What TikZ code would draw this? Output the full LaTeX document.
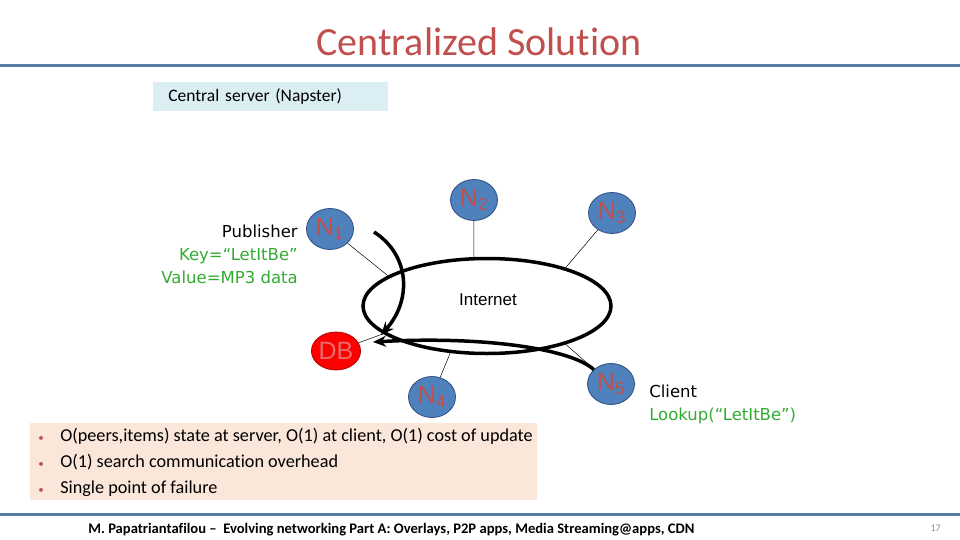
\documentclass[tikz,border=0pt]{standalone}
\usepackage{fontspec}
\setmainfont{Carlito}[Ligatures=NoCommon]
\newfontfamily\diagfont{DejaVu Sans}
\newfontfamily\netfont{Liberation Sans}
\usetikzlibrary{positioning, arrows.meta, shapes.geometric}
\definecolor{csTitle}{HTML}{C0504D}
\definecolor{csRule}{HTML}{557DA5}
\definecolor{csServer}{HTML}{DAEEF3}
\definecolor{csPeer}{HTML}{4F81BD}
\definecolor{csPeerLine}{HTML}{2F4F7F}
\definecolor{csDBText}{HTML}{E86A6A}
\definecolor{csGreen}{HTML}{33AA33}
\definecolor{csNote}{HTML}{FBE7DA}
\definecolor{csPage}{HTML}{8C8C8C}
\newcommand{\csitem}[1]{\makebox[22pt][l]{\textcolor{csTitle}{\fontsize{11}{11}\selectfont•}}#1}
\tikzset{
  cs/.style={x=1pt, y=-1pt, line width=0.6pt},
  rule/.style={draw=csRule, line width=3pt},
  peer/.style={ellipse, draw=csPeerLine, line width=0.8pt, fill=csPeer, minimum width=47pt, minimum height=41pt, inner sep=0pt, text=csTitle, font=\netfont\fontsize{25}{25}\selectfont},
  dbnode/.style={peer, fill=red, draw=red!70!black, text=csDBText},
  net/.style={ellipse, draw, line width=3.5pt, minimum width=248pt, minimum height=95pt, inner sep=0pt},
  link/.style={line width=0.5pt},
  flow/.style={line width=3.5pt, -{Stealth[length=13pt, width=11pt]}},
  lbl/.style={font=\diagfont\fontsize{16.5}{23}\selectfont, inner sep=0pt},
  item/.style={anchor=base west, inner sep=0pt, font=\fontsize{18.2}{20}\selectfont},
}

\begin{document}
\begin{tikzpicture}[
  cs,
]
\useasboundingbox (0,0) rectangle (960,540);

\node[anchor=base, text=csTitle, font=\fontsize{40}{40}\selectfont, inner sep=0pt] (title) at (479,56) {Centralized Solution};
\draw[rule] (0,66) -- (960,66);

\node[anchor=north west, fill=csServer, minimum width=235pt, minimum height=29pt, text width=205pt, inner xsep=15pt, align=left, font=\fontsize{17.5}{19}\selectfont] (server) at (153,82) {Central server (Napster)};

% the network and its peers
\node[net] (inet) at (487,306) {};
\node[font=\netfont\fontsize{17}{17}\selectfont, inner sep=0pt] (inettext) at (488,300) {Internet};

\node[peer] (n1) at (330,229) {N\textsubscript{1}};
\node[peer] (n2) at (474,200) {N\textsubscript{2}};
\node[peer] (n3) at (612,213) {N\textsubscript{3}};
\node[dbnode, minimum height=38pt] (db) at (336,351) {DB};
\node[peer] (n4) at (432,397) {N\textsubscript{4}};
\node[peer] (n5) at (611,384) {N\textsubscript{5}};

\draw[link] (n1) -- (inet.163);
\draw[link] (n2) -- (inet.105);
\draw[link] (n3) -- (inet.26);
\draw[link] (db) -- (inet.195);
\draw[link] (n4) -- (inet.232);
\draw[link] (n5) -- (inet.334);

\node[lbl, anchor=east, align=right] (pub) at (298,254) {Publisher\\\textcolor{csGreen}{Key=“LetItBe”}\\\textcolor{csGreen}{Value=MP3 data}};
\node[lbl, anchor=west, align=left] (client) at (649,404) {Client\\\textcolor{csGreen}{Lookup(“LetItBe”)}};

% publish and lookup
\coordinate (pubstart) at (374,232);
\coordinate (pubend) at (381,335);
\coordinate (lookend) at (373,342);
\draw[flow] (pubstart) .. controls (410,255) and (412,300) .. (pubend);
\draw[flow] (n5.140) .. controls (570,348) and (480,336) .. (lookend);

\node[anchor=north west, fill=csNote, minimum width=507pt, minimum height=77pt, inner sep=0pt] (notes) at (30,423) {};
\node[item] (c1) at (38,441) {\csitem{O(peers,items) state at server, O(1) at client, O(1) cost of update}};
\node[item] (c2) at (38,467) {\csitem{O(1) search communication overhead}};
\node[item] (c3) at (38,493) {\csitem{Single point of failure}};

\draw[rule] (0,514) -- (960,514);
\node[anchor=base west, inner sep=0pt, font=\bfseries\fontsize{14.6}{16}\selectfont] (foot) at (88,533) {M. Papatriantafilou –~ Evolving networking Part A: Overlays, P2P apps, Media Streaming@apps, CDN};
\node[anchor=base east, inner sep=0pt, text=csPage, font=\fontsize{10}{12}\selectfont] (page) at (941,531) {17};
\end{tikzpicture}
\end{document}
